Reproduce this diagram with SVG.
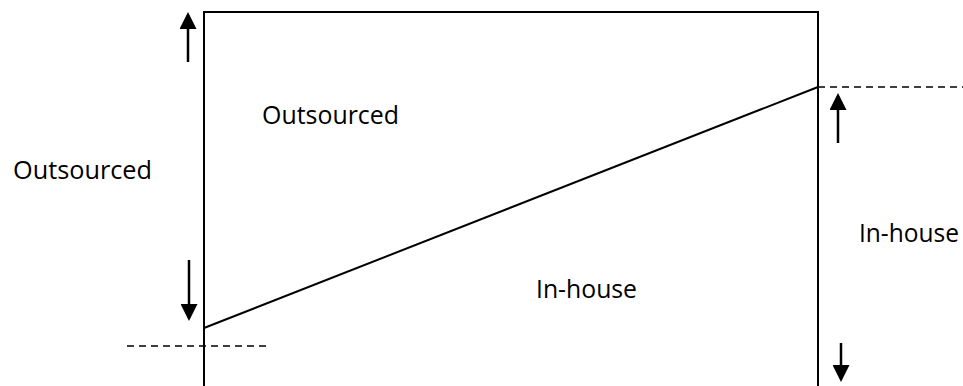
<svg xmlns="http://www.w3.org/2000/svg" width="963" height="386" viewBox="0 0 963 386">
  <style>
    .ln { stroke: #000; stroke-width: 2; fill: none; }
    .dash { stroke: #000; stroke-width: 1.5; stroke-dasharray: 7 5; fill: none; }
    .arr { stroke: #000; stroke-width: 2.5; fill: none; marker-end: url(#head); }
    .lbl { font-family: "Open Sans", "Liberation Sans", Arial, sans-serif; font-size: 25px; fill: #000; }
  </style>
  <defs>
    <!-- solid triangular arrowhead, tip sits 3px beyond the line end -->
    <marker id="head" viewBox="0 0 17 17" refX="14" refY="8.5" markerWidth="17" markerHeight="17" markerUnits="userSpaceOnUse" orient="auto">
      <path d="M0,0 L17,8.5 L0,17 Z" fill="#000"/>
    </marker>
  </defs>

  <g id="frame">
    <path class="ln" d="M204,386 V12 H818 V386"/>
  </g>

  <g id="connectors">
    <line class="ln" x1="204" y1="328" x2="818" y2="87"/>
    <line class="dash" x1="127" y1="346" x2="270" y2="346"/>
    <line class="dash" x1="818" y1="87" x2="963" y2="87"/>
    <line class="arr" x1="188" y1="62" x2="188" y2="15"/>
    <line class="arr" x1="189" y1="260" x2="189" y2="318"/>
    <line class="arr" x1="838" y1="143" x2="838" y2="96"/>
    <line class="arr" x1="841" y1="343" x2="841" y2="379"/>
  </g>

  <g id="outsourced-area">
    <text class="lbl" x="262" y="123.5" textLength="137" lengthAdjust="spacingAndGlyphs">Outsourced</text>
  </g>
  <g id="outsourced-side">
    <text class="lbl" x="13" y="179" textLength="139" lengthAdjust="spacingAndGlyphs">Outsourced</text>
  </g>
  <g id="inhouse-area">
    <text class="lbl" x="536" y="298" textLength="101" lengthAdjust="spacingAndGlyphs">In-house</text>
  </g>
  <g id="inhouse-side">
    <text class="lbl" x="859" y="241.5" textLength="100" lengthAdjust="spacingAndGlyphs">In-house</text>
  </g>
</svg>
